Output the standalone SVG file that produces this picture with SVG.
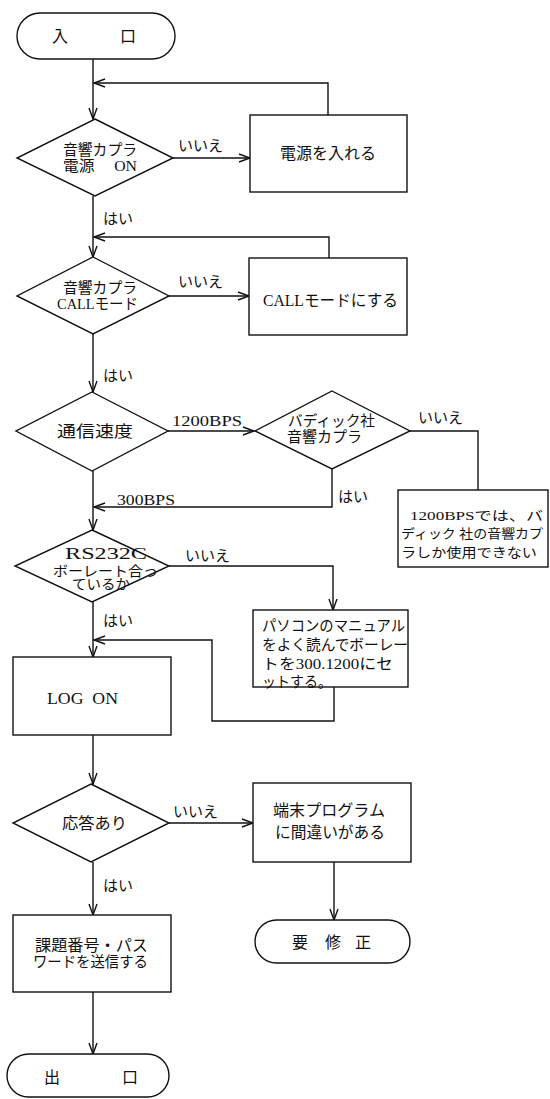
<svg xmlns="http://www.w3.org/2000/svg" width="550" height="1099" viewBox="0 0 550 1099">
<style>
.s{fill:#fff;stroke:#111;stroke-width:1.4}
.c{fill:none;stroke:#111;stroke-width:1.4}
text{font-family:"Liberation Serif","Noto Sans CJK JP",serif;font-size:15px;fill:#111}
.m{text-anchor:middle}
.l{font-size:14px}
.t{font-size:13px}
</style>
<defs>
<marker id="a" markerUnits="userSpaceOnUse" markerWidth="14" markerHeight="12" viewBox="-12 -6 14 12" refX="0" refY="0" orient="auto">
<path d="M-11,-4 L0,0 L-11,4" fill="none" stroke="#111" stroke-width="1.4"/>
</marker>
</defs>
<rect width="550" height="1099" fill="#fff"/>
<g id="connectors">
<path class="c" d="M93,59 V119" marker-end="url(#a)"/>
<path class="c" d="M328,115 V83 H94" marker-end="url(#a)"/>
<path class="c" d="M173,158 H250" marker-end="url(#a)"/>
<path class="c" d="M93,196 V257" marker-end="url(#a)"/>
<path class="c" d="M329,258 V237 H94" marker-end="url(#a)"/>
<path class="c" d="M169,296 H249" marker-end="url(#a)"/>
<path class="c" d="M93,334 V392" marker-end="url(#a)"/>
<path class="c" d="M168,431 H254" marker-end="url(#a)"/>
<path class="c" d="M410,431 H478 V490"/>
<path class="c" d="M332,469 V507 H94" marker-end="url(#a)"/>
<path class="c" d="M93,471 V530" marker-end="url(#a)"/>
<path class="c" d="M169,566 H333 V610" marker-end="url(#a)"/>
<path class="c" d="M334,687 V721 H212 V640 H94" marker-end="url(#a)"/>
<path class="c" d="M93,602 V657" marker-end="url(#a)"/>
<path class="c" d="M93,735 V784" marker-end="url(#a)"/>
<path class="c" d="M169,823 H253" marker-end="url(#a)"/>
<path class="c" d="M334,862 V920" marker-end="url(#a)"/>
<path class="c" d="M93,862 V915" marker-end="url(#a)"/>
<path class="c" d="M93,992 V1054" marker-end="url(#a)"/>
<text x="178" y="151">いいえ</text>
<text x="103" y="224">はい</text>
<text x="178" y="287">いいえ</text>
<text x="103" y="381">はい</text>
<text x="172" y="426" textLength="70" lengthAdjust="spacingAndGlyphs">1200BPS</text>
<text x="418" y="423">いいえ</text>
<text x="338" y="502">はい</text>
<text x="117" y="505" textLength="58" lengthAdjust="spacingAndGlyphs">300BPS</text>
<text x="185" y="561">いいえ</text>
<text x="103" y="626">はい</text>
<text x="173" y="817">いいえ</text>
<text x="103" y="891">はい</text>
</g>
<g id="entry">
<rect class="s" x="17" y="13" width="158" height="46" rx="23"/>
<text class="m" x="60" y="42" style="font-size:16px">入</text>
<text class="m" x="128" y="42" style="font-size:16px">口</text>
</g>
<g id="d1">
<path class="s" d="M95,119 L173,158 L95,196 L17,158 Z"/>
<text x="63" y="155" textLength="74" lengthAdjust="spacingAndGlyphs">音響カプラ</text>
<text x="63" y="171" textLength="74" lengthAdjust="spacingAndGlyphs" xml:space="preserve">電源　 ON</text>
</g>
<g id="b1">
<rect class="s" x="250" y="115" width="157" height="77"/>
<text class="m" x="328" y="159" style="font-size:16px">電源を入れる</text>
</g>
<g id="d2">
<path class="s" d="M93,257 L169,296 L93,334 L17,296 Z"/>
<text x="63" y="293" textLength="74" lengthAdjust="spacingAndGlyphs">音響カプラ</text>
<text x="57" y="309" textLength="81" lengthAdjust="spacingAndGlyphs">CALLモード</text>
</g>
<g id="b2">
<rect class="s" x="249" y="258" width="158" height="77"/>
<text x="263" y="306" textLength="135" lengthAdjust="spacingAndGlyphs" style="font-size:16px">CALLモードにする</text>
</g>
<g id="d3">
<path class="s" d="M92,392 L168,431 L92,471 L16,431 Z"/>
<text x="57" y="437" textLength="76" lengthAdjust="spacingAndGlyphs" style="font-size:16px">通信速度</text>
</g>
<g id="d4">
<path class="s" d="M332,391 L410,431 L332,469 L255,431 Z"/>
<text x="288" y="426" textLength="87" lengthAdjust="spacingAndGlyphs">バディック社</text>
<text x="287" y="442" textLength="75" lengthAdjust="spacingAndGlyphs">音響カプラ</text>
</g>
<g id="b3">
<rect class="s" x="398" y="490" width="150" height="77"/>
<text class="t" x="410" y="520" textLength="133" lengthAdjust="spacingAndGlyphs">1200BPSでは、バ</text>
<text class="t" x="401" y="538" textLength="142" lengthAdjust="spacingAndGlyphs" xml:space="preserve">ディック 社の音響カプ</text>
<text class="t" x="401" y="557" textLength="136" lengthAdjust="spacingAndGlyphs">ラしか使用できない</text>
</g>
<g id="d5">
<path class="s" d="M92,530 L169,566 L92,602 L15,566 Z"/>
<text x="65" y="559" textLength="82" lengthAdjust="spacingAndGlyphs" style="font-size:16px">RS232C</text>
<text class="l" x="53" y="576" textLength="105" lengthAdjust="spacingAndGlyphs">ボーレート合っ</text>
<text class="l" x="72" y="589" textLength="58" lengthAdjust="spacingAndGlyphs">ているか</text>
</g>
<g id="b4">
<rect class="s" x="253" y="610" width="155" height="77"/>
<text x="262" y="631" textLength="143" lengthAdjust="spacingAndGlyphs">パソコンのマニュアル</text>
<text x="262" y="650" textLength="146" lengthAdjust="spacingAndGlyphs">をよく読んでボーレー</text>
<text x="262" y="669" textLength="131" lengthAdjust="spacingAndGlyphs">トを300.1200にセ</text>
<text x="262" y="687" textLength="70" lengthAdjust="spacingAndGlyphs">ットする。</text>
</g>
<g id="logon">
<rect class="s" x="13" y="657" width="158" height="78"/>
<text x="47" y="704" textLength="71" lengthAdjust="spacingAndGlyphs" xml:space="preserve" style="font-size:16px">LOG  ON</text>
</g>
<g id="d6">
<path class="s" d="M91,784 L169,823 L91,862 L13,823 Z"/>
<text x="62" y="829" textLength="65" lengthAdjust="spacingAndGlyphs" style="font-size:16px">応答あり</text>
</g>
<g id="b5">
<rect class="s" x="253" y="783" width="158" height="79"/>
<text x="273" y="816" textLength="112" lengthAdjust="spacingAndGlyphs" style="font-size:16px">端末プログラム</text>
<text x="275" y="838" textLength="110" lengthAdjust="spacingAndGlyphs" style="font-size:16px">に間違いがある</text>
</g>
<g id="fix">
<rect class="s" x="255" y="920" width="155" height="43" rx="21.5"/>
<text class="m" x="300" y="948" style="font-size:16px">要</text>
<text class="m" x="333" y="948" style="font-size:16px">修</text>
<text class="m" x="363" y="948" style="font-size:16px">正</text>
</g>
<g id="b6">
<rect class="s" x="13" y="915" width="158" height="77"/>
<text x="35" y="951" textLength="113" lengthAdjust="spacingAndGlyphs" style="font-size:16px">課題番号・パス</text>
<text x="33" y="967" textLength="115" lengthAdjust="spacingAndGlyphs">ワードを送信する</text>
</g>
<g id="exit">
<rect class="s" x="7" y="1054" width="162" height="43" rx="21.5"/>
<text class="m" x="52" y="1083" style="font-size:16px">出</text>
<text class="m" x="130" y="1083" style="font-size:16px">口</text>
</g>
</svg>
